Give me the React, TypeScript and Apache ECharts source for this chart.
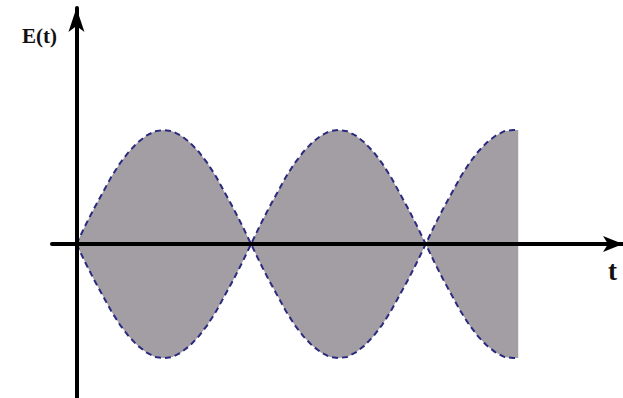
import React, { useEffect, useRef } from "react";
import * as echarts from "echarts";

// time in units of one half-beat (zeros of the envelope at 0, 1, 2)
const tValues = [
  0, 0.05, 0.1, 0.15, 0.2, 0.25, 0.3, 0.35, 0.4, 0.45, 0.5,
  0.55, 0.6, 0.65, 0.7, 0.75, 0.8, 0.85, 0.9, 0.95, 1.0,
  1.05, 1.1, 1.15, 1.2, 1.25, 1.3, 1.35, 1.4, 1.45, 1.5,
  1.55, 1.6, 1.65, 1.7, 1.75, 1.8, 1.85, 1.9, 1.95, 2.0,
  2.05, 2.1, 2.15, 2.2, 2.25, 2.3, 2.35, 2.4, 2.45, 2.5, 2.53,
];
// upper envelope amplitude
const envelope = [
  0, 0.16, 0.31, 0.45, 0.59, 0.71, 0.81, 0.89, 0.95, 0.99, 1.0,
  0.99, 0.95, 0.89, 0.81, 0.71, 0.59, 0.45, 0.31, 0.16, 0,
  0.16, 0.31, 0.45, 0.59, 0.71, 0.81, 0.89, 0.95, 0.99, 1.0,
  0.99, 0.95, 0.89, 0.81, 0.71, 0.59, 0.45, 0.31, 0.16, 0,
  0.16, 0.31, 0.45, 0.59, 0.71, 0.81, 0.89, 0.95, 0.99, 1.0, 1.0,
];

const yLabel = "E(t)";
const xLabel = "t";

export default function App() {
  const ref = useRef<HTMLDivElement>(null);
  useEffect(() => {
    if (!ref.current) return;
    const chart = echarts.init(ref.current, undefined, { renderer: "svg" });
    const upper = tValues.map((t, i) => [t, envelope[i]]);
    const lower = tValues.map((t, i) => [t, -envelope[i]]);
    const fill = "#a39da4";
    const dash = {
      color: "#2a2a80",
      width: 2,
      type: [6, 4] as number[],
    };
    chart.setOption({
      animation: false,
      backgroundColor: "#ffffff",
      grid: { left: 52, right: 0, top: 8, bottom: 0, containLabel: false },
      xAxis: {
        type: "value",
        min: -0.14,
        max: 3.13,
        z: 10,
        axisLine: {
          onZero: true,
          symbol: ["none", "arrow"],
          symbolSize: [12, 20],
          lineStyle: { color: "#000", width: 4 },
        },
        axisTick: { show: false },
        axisLabel: { show: false },
        splitLine: { show: false },
      },
      yAxis: {
        type: "value",
        min: -1.35,
        max: 2.07,
        z: 10,
        axisLine: {
          show: true,
          onZero: true,
          symbol: ["none", "arrow"],
          symbolSize: [12, 24],
          lineStyle: { color: "#000", width: 4 },
        },
        axisTick: { show: false },
        axisLabel: { show: false },
        splitLine: { show: false },
      },
      graphic: [
        {
          type: "text",
          left: 22,
          top: 25,
          style: {
            text: yLabel,
            font: "bold 21px 'Liberation Serif', 'DejaVu Serif', serif",
            fill: "#111",
          },
        },
        {
          type: "text",
          left: 608,
          top: 257,
          style: {
            text: xLabel,
            font: "bold 27px 'Liberation Serif', 'DejaVu Serif', serif",
            fill: "#111",
          },
        },
      ],
      series: [
        {
          type: "line",
          data: upper,
          showSymbol: false,
          lineStyle: dash,
          areaStyle: { color: fill, opacity: 1, origin: 0 },
          z: 2,
        },
        {
          type: "line",
          data: lower,
          showSymbol: false,
          lineStyle: dash,
          areaStyle: { color: fill, opacity: 1, origin: 0 },
          z: 2,
        },
      ],
    });
    return () => chart.dispose();
  }, []);
  return <div ref={ref} style={{ width: 623, height: 398, position: "absolute", left: 0, top: 0 }} />;
}
